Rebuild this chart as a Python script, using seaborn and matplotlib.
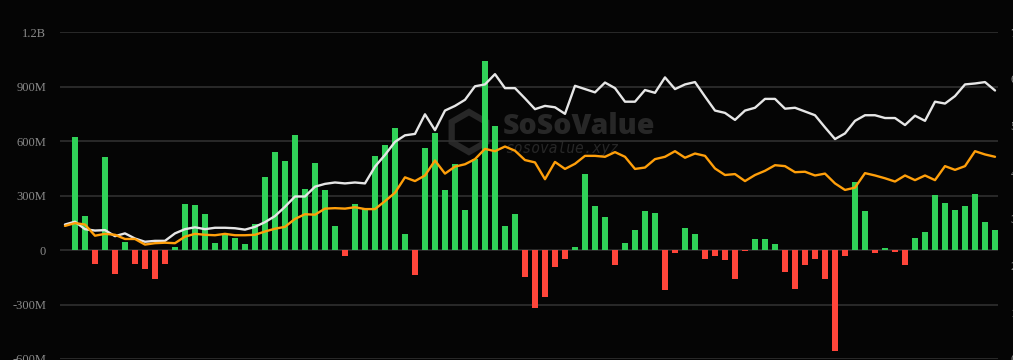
"""
Daily net inflow bars with two running totals, SoSoValue-style dark chart.
"""
import numpy as np
import pandas as pd
import matplotlib
matplotlib.use("Agg")
import matplotlib.pyplot as plt
from matplotlib.patches import RegularPolygon
import seaborn as sns

# daily net inflow, millions USD (one value per day, first day has no flow)
net_inflow = [
    0, 625, 190, -78, 515, -133, 44, -75, -102, -157,
    -77, 15, 256, 247, 197, 38, 81, 68, 31, 146,
    404, 540, 492, 631, 337, 477, 331, 134, -33, 251,
    232, 519, 576, 671, 91, -137, 562, 646, 331, 472,
    222, 501, 1042, 682, 132, 200, -151, -321, -258, -91,
    -47, 15, 419, 241, 181, -82, 40, 113, 214, 205,
    -219, -14, 123, 90, -51, -35, -55, -161, -3, 59,
    62, 31, -119, -214, -80, -49, -157, -557, -33, 375,
    216, -14, 11, -9, -82, 66, 101, 302, 258, 222,
    240, 306, 154, 108,
]

# right axis series, billions USD
total_assets = [
    2.88, 2.94, 2.78, 2.75, 2.76, 2.63, 2.69, 2.58, 2.51, 2.53,
    2.53, 2.69, 2.78, 2.82, 2.78, 2.81, 2.81, 2.80, 2.77, 2.83,
    2.93, 3.06, 3.26, 3.48, 3.48, 3.69, 3.75, 3.78, 3.76, 3.78,
    3.76, 4.12, 4.37, 4.65, 4.79, 4.82, 5.24, 4.90, 5.32, 5.42,
    5.55, 5.84, 5.88, 6.10, 5.80, 5.80, 5.58, 5.35, 5.42, 5.39,
    5.25, 5.85, 5.78, 5.71, 5.92, 5.80, 5.51, 5.51, 5.76, 5.70,
    6.03, 5.78, 5.88, 5.93, 5.62, 5.32, 5.27, 5.12, 5.32, 5.38,
    5.57, 5.57, 5.36, 5.38, 5.30, 5.22, 4.96, 4.71, 4.83, 5.10,
    5.22, 5.22, 5.16, 5.16, 5.01, 5.21, 5.10, 5.51, 5.47, 5.63,
    5.88, 5.90, 5.93, 5.75,
]
cum_inflow = [
    2.85, 2.91, 2.88, 2.64, 2.68, 2.66, 2.57, 2.57, 2.45, 2.48,
    2.49, 2.48, 2.62, 2.68, 2.66, 2.65, 2.68, 2.65, 2.65, 2.66,
    2.73, 2.79, 2.83, 3.00, 3.10, 3.09, 3.22, 3.23, 3.22, 3.25,
    3.21, 3.21, 3.38, 3.56, 3.89, 3.81, 3.93, 4.25, 3.97, 4.12,
    4.17, 4.28, 4.50, 4.45, 4.55, 4.46, 4.26, 4.21, 3.85, 4.22,
    4.07, 4.18, 4.35, 4.35, 4.33, 4.43, 4.33, 4.07, 4.10, 4.28,
    4.33, 4.45, 4.31, 4.40, 4.35, 4.08, 3.94, 3.96, 3.81, 3.94,
    4.03, 4.15, 4.13, 4.00, 4.01, 3.93, 3.97, 3.76, 3.62, 3.67,
    3.98, 3.93, 3.87, 3.80, 3.93, 3.83, 3.93, 3.83, 4.13, 4.05,
    4.13, 4.45, 4.38, 4.33,
]

left_ticks = [-600, -300, 0, 300, 600, 900, 1200]
left_labels = ["-600M", "-300M", "0", "300M", "600M", "900M", "1.2B"]
right_ticks = [0, 1, 2, 3, 4, 5, 6, 7]
right_labels = [f"{t}B" for t in right_ticks]

BG = "#050505"
GRID = "#303030"
TICK = "#8a8a8a"
GREEN = "#30d158"
RED = "#ff453a"
ORANGE = "#ff9f0a"
WHITE = "#e6e6e6"
WM = "#272727"

df = pd.DataFrame({
    "day": np.arange(len(net_inflow)),
    "flow": net_inflow,
    "assets": total_assets,
    "cum": cum_inflow,
})
df["sign"] = np.where(df["flow"] >= 0, "in", "out")

sns.set_theme(style="dark")
plt.rcParams["font.family"] = ["Liberation Serif", "DejaVu Serif"]

fig = plt.figure(figsize=(10.13, 3.6), dpi=100, facecolor=BG)
ax = fig.add_axes([0.0592, 0.0028, 0.926, 0.908])
ax.set_facecolor(BG)

sns.barplot(data=df, x="day", y="flow", hue="sign", palette={"in": GREEN, "out": RED},
            saturation=1, dodge=False, width=0.68, legend=False, ax=ax, zorder=2,
            edgecolor="none", linewidth=0)

ax.set_ylim(-600, 1200)
ax.set_yticks(left_ticks)
ax.set_yticklabels(left_labels)
ax.set_xlim(-0.5, len(df) - 0.7)
ax.set_xticks([])
ax.set_xlabel("")
ax.set_ylabel("")
ax.grid(False)
for t in left_ticks:
    ax.axhline(t, color=GRID, lw=1.2, zorder=1)
ax.tick_params(axis="y", colors=TICK, labelsize=9, length=0, pad=10)
for s in ax.spines.values():
    s.set_visible(False)

# watermark, behind the bars
hexagon = RegularPolygon((4.69, 2.28), numVertices=6, radius=0.2, orientation=0,
                         transform=fig.dpi_scale_trans, facecolor="none",
                         edgecolor=WM, lw=4.5, zorder=0.8)
ax.add_patch(hexagon)
ax.text(503 / 1013, 1 - 126 / 360, "SoSoValue", color=WM, fontsize=20.5, fontweight="heavy",
        family=["Open Sans", "DejaVu Sans"], ha="left", va="center",
        transform=fig.transFigure, zorder=0.8)
ax.text(505 / 1013, 1 - 148 / 360, "sosovalue.xyz", color=WM, fontsize=10.5, style="italic",
        family=["DejaVu Sans Mono"], ha="left", va="center",
        transform=fig.transFigure, zorder=0.8)

ax2 = ax.twinx()
sns.lineplot(data=df, x="day", y="assets", color=WHITE, lw=1.7, ax=ax2, zorder=3)
sns.lineplot(data=df, x="day", y="cum", color=ORANGE, lw=1.7, ax=ax2, zorder=3)
ax2.set_ylim(0, 7)
ax2.set_yticks(right_ticks)
ax2.set_yticklabels(right_labels)
ax2.set_xlim(ax.get_xlim())
ax2.set_xlabel("")
ax2.set_ylabel("")
ax2.grid(False)
ax2.tick_params(axis="y", colors=TICK, labelsize=9, length=0, pad=9)
for s in ax2.spines.values():
    s.set_visible(False)

fig.savefig("out.png", dpi=100, facecolor=BG)
